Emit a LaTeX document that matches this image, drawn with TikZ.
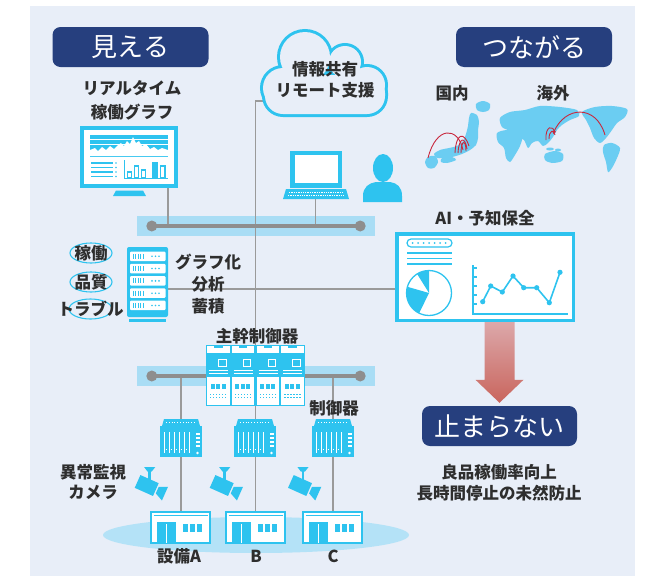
\documentclass[tikz,border=0pt]{standalone}
\usepackage{fontspec}
\setmainfont{Noto Sans CJK JP}
\usetikzlibrary{calc,arrows.meta}

\definecolor{bgpanel}{HTML}{E8EEF8}
\definecolor{cyanc}{HTML}{2EC3EF}
\definecolor{mapc}{HTML}{6BCDF2}
\definecolor{bandc}{HTML}{A9DDF5}
\definecolor{basec}{HTML}{B4E2F7}
\definecolor{navyc}{HTML}{263F7E}
\definecolor{wirec}{HTML}{9A9A9A}
\definecolor{busc}{HTML}{8E8E8E}
\definecolor{inkc}{HTML}{2E2E2E}
\definecolor{redc}{HTML}{C8283E}
\definecolor{arrowtop}{HTML}{DCA8AA}
\definecolor{arrowbot}{HTML}{C9655D}

\tikzset{
  badge/.style={fill=navyc, rounded corners=8pt, text=white, inner sep=0pt,
    minimum width=156pt, minimum height=40pt,
    font=\fontsize{26}{30}\selectfont},
  lbl/.style={text=inkc, inner sep=0pt, align=center,
    font=\fontsize{16.5}{22}\selectfont\bfseries},
  spot/.style={inner sep=0pt, outer sep=0pt},
  wire/.style={draw=wirec, line width=1.3pt},
  busline/.style={draw=busc, line width=4pt},
  band/.style={fill=bandc, inner sep=0pt, minimum width=238pt, minimum height=20pt},
  ring/.style={draw=cyanc, line width=1.1pt},
  redarc/.style={draw=redc, line width=0.9pt},
  % small field controller
  ctrlbox/.pic={
    \fill[cyanc] (-21,-12) rectangle (21,19);
    \fill[cyanc] (-19,-12) -- (-17,-19) -- (17,-19) -- (19,-12) -- cycle;
    \draw[white, line width=0.8pt, dash pattern=on 1pt off 1.8pt] (-15,-16) -- (15,-16);
    \foreach \u in {-17,-12,-7,-2,3,8}
      \draw[white, line width=0.9pt] (\u,-6) -- (\u,15);
    \foreach \u in {-14.5,-9.5,-4.5,0.5,5.5}
      \draw[white, line width=0.7pt] (\u-0.8,11) -- (\u+0.8,11);
    \foreach \v in {-5,-1,3,7}
      \fill[white] (14.5,\v) rectangle (19,\v+2.4);
    \fill[white] (16.5,15) circle (1.4);
  },
  % surveillance camera
  camicon/.pic={
    \begin{scope}[rotate=-24]
      \fill[cyanc] (-10,-7) rectangle (10,7);
      \fill[cyanc] (11.5,-3.5) -- (20,-7.5) -- (20,7.5) -- (11.5,3.5) -- cycle;
    \end{scope}
    \fill[cyanc] (1.6,-14.5) rectangle (4.2,-5);
    \fill[cyanc] (-2.6,-18.5) -- (8.6,-18.5) -- (5,-14) -- (0.8,-14) -- cycle;
  },
  % equipment building
  facility/.pic={
    \draw[cyanc, line width=1.6pt, fill=white] (-29.7,-15.2) rectangle (29.7,16);
    \draw[cyanc, line width=1pt] (-27,-11.7) -- (27,-11.7);
    \fill[cyanc] (-23.5,-5) rectangle (-4.5,16);
    \draw[white, line width=0.8pt] (-14.5,-3) -- (-14.5,16);
    \fill[cyanc] (2.2,-3) rectangle (7.4,5);
    \fill[cyanc] (9.4,-3) rectangle (14.6,5);
    \fill[cyanc] (16.6,-3) rectangle (21.8,5);
  },
  % one module of the main controller rack
  mcunit/.pic={
    \draw[cyanc, line width=1.2pt, fill=white] (0.6,0.6) rectangle (24.15,60.4);
    \fill[cyanc] (8,0) rectangle (16.5,3);
    \fill[cyanc] (1,8) rectangle (23.75,32);
    \draw[white, line width=1pt] (12.5,14) rectangle (20,21);
    \draw[white, line width=0.8pt] (3,25.5) -- (22,25.5);
    \draw[white, line width=0.8pt] (3,28.5) -- (22,28.5);
    \foreach \u in {4.5,10,15.5}
      \fill[cyanc] (\u,39) rectangle (\u+4,43.5);
    \foreach \u in {4,7,10,13,16,19}{
      \fill[cyanc] (\u,48.5) rectangle (\u+1.4,49.9);
      \fill[cyanc] (\u,52) rectangle (\u+1.4,53.4);
    }
  },
}

\begin{document}
\begin{tikzpicture}[x=1pt, y=-1pt]
\useasboundingbox (0,0) rectangle (650,576);
\fill[white] (0,0) rectangle (650,576);
\fill[bgpanel] (30,6) rectangle (635,576);

% ---------- anchor nodes for the devices ----------
\node[spot, minimum width=98pt, minimum height=62pt] (mon) at (129,157) {};
\node[spot, minimum width=128pt, minimum height=88pt] (cloud) at (324,73.5) {};
\node[spot, minimum width=66pt, minimum height=48pt] (pc) at (315.5,175) {};
\node[spot, minimum width=41pt, minimum height=75pt] (srv) at (147.5,284.5) {};
\node[spot, minimum width=180pt, minimum height=90pt] (ai) at (485,277) {};
\node[spot, minimum width=99pt, minimum height=61pt] (mc) at (255.5,375.5) {};
\node[band] (bus1) at (256,226) {};
\node[band] (bus2) at (256,376) {};
\node[spot, minimum width=42pt, minimum height=38pt] (ctrlA) at (181,438) {};
\node[spot, minimum width=42pt, minimum height=38pt] (ctrlB) at (255,438) {};
\node[spot, minimum width=42pt, minimum height=38pt] (ctrlC) at (333,438) {};
\node[spot, minimum width=61pt, minimum height=32pt] (eqA) at (180.5,527) {};
\node[spot, minimum width=61pt, minimum height=32pt] (eqB) at (255.5,527) {};
\node[spot, minimum width=61pt, minimum height=32pt] (eqC) at (332.5,527) {};
\coordinate (cloudport) at (263,101);
\coordinate (srvport) at (168,289);

% ---------- floor under the equipment ----------
\fill[basec] (256,535) ellipse [x radius=153, y radius=18];

% ---------- network wires ----------
\draw[wire] (cloudport) -| (mc.north);
\draw[wire] ([xshift=-10pt]mon.south east) -- ([xshift=-10pt]mon.south east |- bus1);
\draw[wire] (pc.south) -- (pc.south |- bus1);
\draw[wire] (srvport) -- (srvport -| ai.west);
\draw[wire] (ctrlA |- bus2) -- (ctrlA |- eqA.north);
\draw[wire] (mc.south) -- (mc.south |- eqB.north);
\draw[wire] (ctrlC |- bus2) -- (ctrlC |- eqC.north);

% ---------- buses ----------
\foreach \b in {bus1,bus2}{
  \draw[busline] ([xshift=15pt]\b.west) -- ([xshift=-15pt]\b.east);
  \fill[busc] ([xshift=15pt]\b.west) circle (5.5);
  \fill[busc] ([xshift=-15pt]\b.east) circle (5.5);
}

% ---------- badges and labels ----------
\node[badge] (see) at (130.5,47) {見える};
\node[badge] (link) at (534,47) {つながる};
\node[badge, minimum width=155pt] (stop) at (499.5,426) {止まらない};

\node[lbl, font=\fontsize{16.5}{24}\selectfont\bfseries] (rtlabel) at (132,100) {リアルタイム\\稼働グラフ};
\node[lbl] (domestic) at (452,93) {国内};
\node[lbl] (overseas) at (553,93) {海外};
\node[lbl] (ailabel) at (485,218) {AI・予知保全};
\node[lbl] (analysis) at (208,284) {グラフ化\\分析\\蓄積};
\node[lbl] (mclabel) at (257,336) {主幹制御器};
\node[lbl] (ctrllabel) at (334,408) {制御器};
\node[lbl, font=\fontsize{16.5}{20}\selectfont\bfseries] (camlabel) at (93,482) {異常監視\\カメラ};
\node[lbl] (labA) at (179,556) {設備A};
\node[lbl] (labB) at (256,556) {B};
\node[lbl] (labC) at (333,556) {C};
\node[lbl, font=\fontsize{16.5}{21}\selectfont\bfseries] (effect) at (499,482.5) {良品稼働率向上\\長時間停止の未然防止};

% data categories with rings
\draw[ring] (91,253) ellipse [x radius=21, y radius=10];
\draw[ring] (91,282) ellipse [x radius=21, y radius=10];
\draw[ring] (90.5,309) ellipse [x radius=21.5, y radius=10];
\node[lbl] (cat1) at (91,253) {稼働};
\node[lbl] (cat2) at (91,282) {品質};
\node[lbl] (cat3) at (90.5,309) {トラブル};

% ---------- monitor with real-time graph ----------
\draw[cyanc, line width=3.5pt, fill=white] (81.75,127.75) rectangle (176,186);
\fill[cyanc] (90,135) rectangle (168,157);
\draw[white, line width=0.8pt] (90,139) -- (168,139);
\draw[white, line width=0.6pt] (90,144.5) -- (168,144.5);
\fill[white] (90,156) -- (90,150) -- (95,148) -- (98,151) -- (102,147) -- (106,150)
  -- (110,146) -- (114,149) -- (118,145) -- (121,143) -- (124,146) -- (127,141)
  -- (130,144) -- (133,137) -- (136,143) -- (139,141) -- (142,146) -- (146,144)
  -- (150,149) -- (154,147) -- (158,150) -- (162,148) -- (168,150) -- (168,156) -- cycle;
\foreach \v in {163,167.5,172,176.5}{
  \draw[cyanc, line width=1.3pt] (91,\v) -- (113,\v);
  \fill[cyanc] (116,\v) circle (0.9);
}
\draw[cyanc, line width=1pt] (124,160) -- (124,178) -- (168,178);
\draw[cyanc, line width=1.1pt, fill=white] (127.5,172) rectangle (131.5,178);
\draw[cyanc, line width=1.1pt, fill=white] (134.5,166) rectangle (138.5,178);
\draw[cyanc, line width=1.1pt, fill=white] (141.5,170) rectangle (145.5,178);
\fill[cyanc] (152,162) rectangle (157.5,178);
\draw[cyanc, line width=1.1pt, fill=white] (160.5,166) rectangle (165,178);
\fill[cyanc] (113,196) -- (116,190.5) -- (143,190.5) -- (146,196) -- cycle;

% ---------- cloud ----------
\draw[cyanc, line width=6pt] (283,88) circle (20) (305,57) circle (25)
  (345,62) circle (16) (367,85) circle (18);
\draw[cyanc, line width=6pt, rounded corners=18pt] (265,75) rectangle (385,114);
\fill[bgpanel] (283,88) circle (20) (305,57) circle (25)
  (345,62) circle (16) (367,85) circle (18);
\fill[bgpanel, rounded corners=18pt] (265,75) rectangle (385,114);
\node[lbl, font=\fontsize{16.5}{21}\selectfont\bfseries] (cloudlabel) at (325,79.5) {情報共有\\リモート支援};

% ---------- laptop and operator ----------
\fill[cyanc] (290,151) rectangle (342,187.5);
\fill[white] (294.5,155) rectangle (337.5,183);
\fill[cyanc] (286,189) -- (346,189) -- (349,199) -- (283,199) -- cycle;
\draw[white, line width=1.1pt, dash pattern=on 1.3pt off 1pt] (289,192.2) -- (343,192.2);
\draw[white, line width=1.1pt, dash pattern=on 1.3pt off 1pt] (288,195.4) -- (344,195.4);
\fill[cyanc] (383,168) ellipse [x radius=10, y radius=14];
\fill[cyanc] (363,202) -- (363,196) .. controls (363,187) and (369,183) .. (376,182)
  -- (390,182) .. controls (397,183) and (402,187) .. (402,196) -- (402,202) -- cycle;

% ---------- data server ----------
\fill[cyanc, rounded corners=2pt] (127,247) rectangle (168,317);
\foreach \k in {0,...,4}{
  \pgfmathsetmacro{\yy}{251.5+\k*12.3}
  \fill[white, rounded corners=1pt] (130,\yy) rectangle (165.5,\yy+9.5);
  \foreach \u in {133,135.5,138,140.5,143}
    \draw[cyanc, line width=0.8pt] (\u,\yy+2.3) -- (\u,\yy+7.2);
  \foreach \u in {152,155.5,159}
    \fill[cyanc] (\u,\yy+4.75) circle (0.9);
}
\fill[cyanc] (129,318.5) rectangle (166,322);

% ---------- AI dashboard ----------
\draw[cyanc, line width=3.5pt, fill=white] (396.75,233.75) rectangle (573.25,320.25);
\draw[cyanc, line width=1.2pt, rounded corners=4pt] (407,239) rectangle (452,247);
\foreach \u in {412.5,418,423.5,429,434.5,440,445.5}
  \fill[cyanc] (\u,243) circle (1);
\foreach \v in {253,258.5,264}
  \draw[cyanc, line width=1.3pt] (407,\v) -- (452,\v);
\draw[cyanc, line width=1.3pt, fill=white] (429,293) circle (22.5);
\fill[cyanc] (429,293) -- ++(-90:22.5) arc[start angle=-90, end angle=-122, radius=22.5] -- cycle;
\fill[cyanc] (429,293) -- ++(-164:22.5) arc[start angle=-164, end angle=-244, radius=22.5] -- cycle;
\draw[cyanc, line width=1.2pt] (473,265) -- (473,314) -- (568,314);
\foreach \v in {268,277,286,295,304}
  \draw[cyanc, line width=1.1pt] (473,\v) -- (476.5,\v);
\draw[cyanc, line width=1.6pt] (482.7,301.7) -- (490.7,286) -- (502.3,292) -- (513,276)
  -- (523.7,287.7) -- (536.7,287.7) -- (549.3,302.7) -- (560,272.3);
\foreach \p in {(482.7,301.7),(490.7,286),(502.3,292),(513,276),(523.7,287.7),(536.7,287.7),(549.3,302.7),(560,272.3)}
  \fill[cyanc] \p circle (2.6);

% ---------- arrow down to the outcome ----------
\shade[top color=arrowtop, bottom color=arrowbot]
  ($(ai.south -| stop.north)+(-15,0)$) -- ($(ai.south -| stop.north)+(15,0)$)
  -- ($(stop.north)+(15,-26)$) -- ($(stop.north)+(24,-26)$) -- ($(stop.north)+(0,-3)$)
  -- ($(stop.north)+(-24,-26)$) -- ($(stop.north)+(-15,-26)$) -- cycle;

% ---------- main controller rack ----------
\fill[white] (206,345) rectangle (305,406);
\foreach \i in {0,...,3}
  \pic at ($(mc.north west)+(\i*24.75,0)$) {mcunit};
\draw[cyanc, line width=1pt] (206.5,345.5) rectangle (304.5,405.5);

% ---------- field controllers, cameras, equipment ----------
\pic at (ctrlA) {ctrlbox};
\pic at (ctrlB) {ctrlbox};
\pic at (ctrlC) {ctrlbox};
\pic at (146.7,485.5) {camicon};
\pic at (221.7,485.5) {camicon};
\pic at (300,485.5) {camicon};
\pic at (eqA) {facility};
\pic at (eqB) {facility};
\pic at (eqC) {facility};

% ---------- maps ----------
% Japan
\fill[mapc] plot[smooth cycle] coordinates {(476,104) (483,101) (490,104) (489,110) (483,112) (477,110)};
\fill[mapc] plot[smooth cycle] coordinates {(471,113) (477,115) (479,122) (478,130) (478,138)
  (476,145) (470,150) (462,154) (452,157) (443,158) (437,158) (434,154) (440,150) (449,148)
  (457,146) (463,141) (466,134) (468,126) (469,118)};
\fill[mapc] plot[smooth cycle] coordinates {(442,158) (452,157) (456,160) (447,163) (441,162)};
\fill[mapc] plot[smooth cycle] coordinates {(428,157) (435,156) (438,162) (434,168) (428,168) (425,162)};
\draw[redarc] (428,158) .. controls (436,126) and (458,126) .. (463,150);
\draw[redarc] (455,153) .. controls (456,133) and (464,131) .. (469,146);
\draw[redarc] (458,153) .. controls (459,137) and (465,136) .. (467,149);
\draw[redarc] (461,153) .. controls (461,140) and (466,139) .. (466,151);
% world
\fill[mapc] plot[smooth cycle] coordinates {(500,118) (510,112) (525,110) (540,106) (560,107) (577,110)
  (579,116) (570,120) (562,125) (557,130) (553,137) (548,143) (543,146) (538,141) (532,143)
  (528,148) (524,140) (518,137) (510,131) (502,127)};
\fill[mapc] plot[smooth cycle] coordinates {(497,133) (507,130) (517,132) (522,138) (520,146)
  (515,155) (510,162) (506,158) (504,148) (498,142)};
\fill[mapc] plot[smooth cycle] coordinates {(545,154) (555,151) (563,154) (562,161) (552,163) (545,160)};
\fill[mapc] (550,149) ellipse [x radius=4, y radius=1.5] (558,150) ellipse [x radius=3, y radius=1.5];
\fill[mapc] plot[smooth cycle] coordinates {(582,112) (595,107) (612,106) (627,109) (625,117)
  (617,123) (612,130) (606,138) (600,143) (594,138) (590,128) (586,120)};
\fill[mapc] plot[smooth cycle] coordinates {(604,145) (612,143) (620,148) (617,158) (612,168)
  (608,172) (606,162) (603,152)};
\draw[redarc, -{Stealth[length=4pt, width=3.5pt]}] (605,135) .. controls (596,104) and (565,106) .. (553,134);
\draw[redarc] (546,140) .. controls (545,126) and (553,124) .. (555,133);
\draw[redarc] (549,139) .. controls (549,130) and (554,129) .. (555,135);

\end{tikzpicture}
\end{document}
